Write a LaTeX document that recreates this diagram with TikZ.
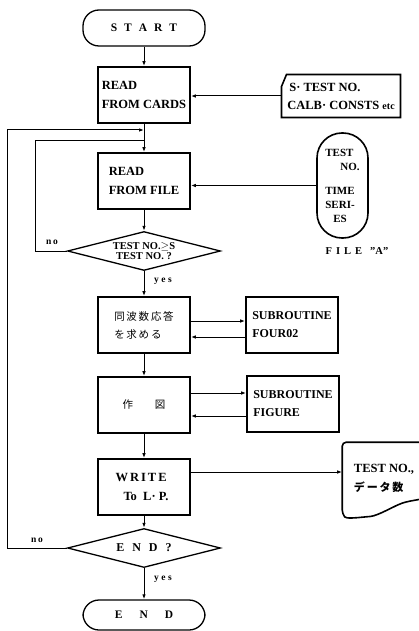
\documentclass[tikz,border=0pt]{standalone}
\usepackage{fontspec}
\setmainfont{Liberation Serif}
\newfontfamily\jpfont{Noto Sans CJK JP}
\usetikzlibrary{positioning,arrows.meta,shapes.geometric,calc}

\begin{document}
\begin{tikzpicture}[x=1pt, y=-1pt,
  line width=1pt,
  >={Latex[length=5pt,width=3.5pt]},
  term/.style={
    draw, line width=1.3pt, rounded corners=16pt,
    minimum width=122pt, minimum height=36pt,
    font=\fontsize{11.5}{13}\selectfont\bfseries
  },
  proc/.style={
    draw, line width=1.6pt, minimum width=92pt, minimum height=56pt,
    align=left, font=\fontsize{12.5}{19}\selectfont\bfseries
  },
  decision/.style={
    draw, diamond, line width=1.3pt, inner sep=0pt,
    minimum width=153pt, minimum height=39pt
  },
  lbl/.style={font=\fontsize{9.5}{10}\selectfont\bfseries}
]
\useasboundingbox (0,0) rectangle (418,631);

% Hauptzweig
\node[term] (start) at (144,28) {\spaceskip=7pt S T A R T};
\node[proc] (cards) at (144,95) {READ\\FROM CARDS};
\node[proc] (file) at (144,181) {READ\\FROM FILE};
\node[decision] (test) at (144,251) {};
\node[font=\fontsize{10.5}{9.5}\selectfont\bfseries, align=center] (testq) at (test) {TEST NO.$\geq$S\\TEST NO. ?};
\node[proc, font=\jpfont\fontsize{10.5}{18}\selectfont] (freq) at (144,325) {同\,波\,数\,応\,答\\を\,求\,め\,る};
\node[proc, font=\jpfont\fontsize{10.5}{18}\selectfont] (plot) at (144,405) {作\hspace{22pt}図};
\node[proc] (write) at (144,487) {W\kern2pt R\kern2pt I\kern2pt T\kern2pt E\\\hspace*{8pt}To\ \ L· P.\hspace*{4pt}};
\node[decision] (endq) at (144,548) {};
\node[font=\fontsize{12}{13}\selectfont\bfseries] (endqt) at (endq) {\spaceskip=8pt E N D ?};
\node[term, minimum height=30pt] (stop) at (144,615) {\spaceskip=17pt E N D};

% Ein- und Ausgaben
\node[minimum width=118pt, minimum height=42pt, align=left,
      font=\fontsize{12.5}{18}\selectfont\bfseries] (const) at (341,96)
  {\hspace*{2pt}S· TEST NO.\\CALB· CONSTS {\fontsize{10}{10}\selectfont etc}};
\draw[line width=1.6pt] ([xshift=5pt]const.north west) -- (const.north east)
  -- (const.south east) -- (const.south west)
  -- ([yshift=-12pt]const.north west) -- cycle;
\node[draw, line width=1.6pt, rounded corners=25pt, minimum width=51pt,
      minimum height=105pt, inner sep=0pt, align=left,
      font=\fontsize{11}{14}\selectfont\bfseries] (drum) at (342.5,185.5)
  {TEST\\\hspace*{15pt}NO.\\[10pt]TIME\\SERI-\\\hspace*{8pt}ES};
\node[font=\fontsize{10.5}{12}\selectfont\bfseries] (filea) at (357,251) {\spaceskip=4pt F I L E \ "A"};
\node[proc, draw=none, minimum width=86pt, minimum height=70pt] (list) at (386,478)
  {\hspace*{-4pt}TEST NO.,\\\hspace*{-4pt}{\jpfont\fontsize{11}{18}\selectfont デ\,ー\,タ\,数}};
\draw[line width=1.6pt, rounded corners=4pt] (list.north east) -- (list.north west)
  -- (list.south west) .. controls +(4,5) and +(-10,1) .. ++(24,3)
  .. controls +(12,-1) and +(-12,4) .. ++(40,-15) -- ++(22,-4) -- cycle;

% Verbindungen
\draw[->] (start) -- (cards);
\draw[->] (cards) -- (file);
\draw[->] (file) -- (test);
\draw[->] (test) -- (freq);
\draw[->] (freq) -- (plot);
\draw[->] (plot) -- (write);
\draw[->] (write) -- (endq);
\draw[->] (endq) -- (stop);

\draw[->] (const.west) -- (const.west -| cards.east);
\draw[->] (drum.west) -- (drum.west -| file.east);

% Unterprogramme
\node[proc, font=\fontsize{12}{18}\selectfont\bfseries] (four) at (292,325) {SUBROUTINE\\FOUR02};
\node[proc, font=\fontsize{12}{18}\selectfont\bfseries] (figure) at (293,404) {SUBROUTINE\\FIGURE};
\draw[->] ([yshift=4pt]freq.east) -- ([yshift=4pt]freq.east -| four.west);
\draw[->] ([yshift=-12pt]four.west) -- ([yshift=-12pt]four.west -| freq.east);
\draw[->] ([yshift=12pt]plot.east) -- ([yshift=12pt]plot.east -| figure.west);
\draw[->] ([yshift=-12pt]figure.west) -- ([yshift=-12pt]figure.west -| plot.east);
\draw[->] ([yshift=15pt]write.east) -- ([yshift=15pt]write.east -| list.west);

% Rueckfuehrungen
\coordinate (back1) at (144,141);
\coordinate (back2) at (144,130);
\draw (test.west) -- ++(-31,0) |- (back1);
\draw[->] (endq.west) -- ++(-59,0) |- (back2);
\node[lbl] (no1) at (52,242) {n\,o};
\node[lbl] (yes1) at (163,281) {\spaceskip=2.5pt y e s};
\node[lbl] (no2) at (37,540) {n\,o};
\node[lbl] (yes2) at (163,579) {\spaceskip=2.5pt y e s};
\end{tikzpicture}
\end{document}
